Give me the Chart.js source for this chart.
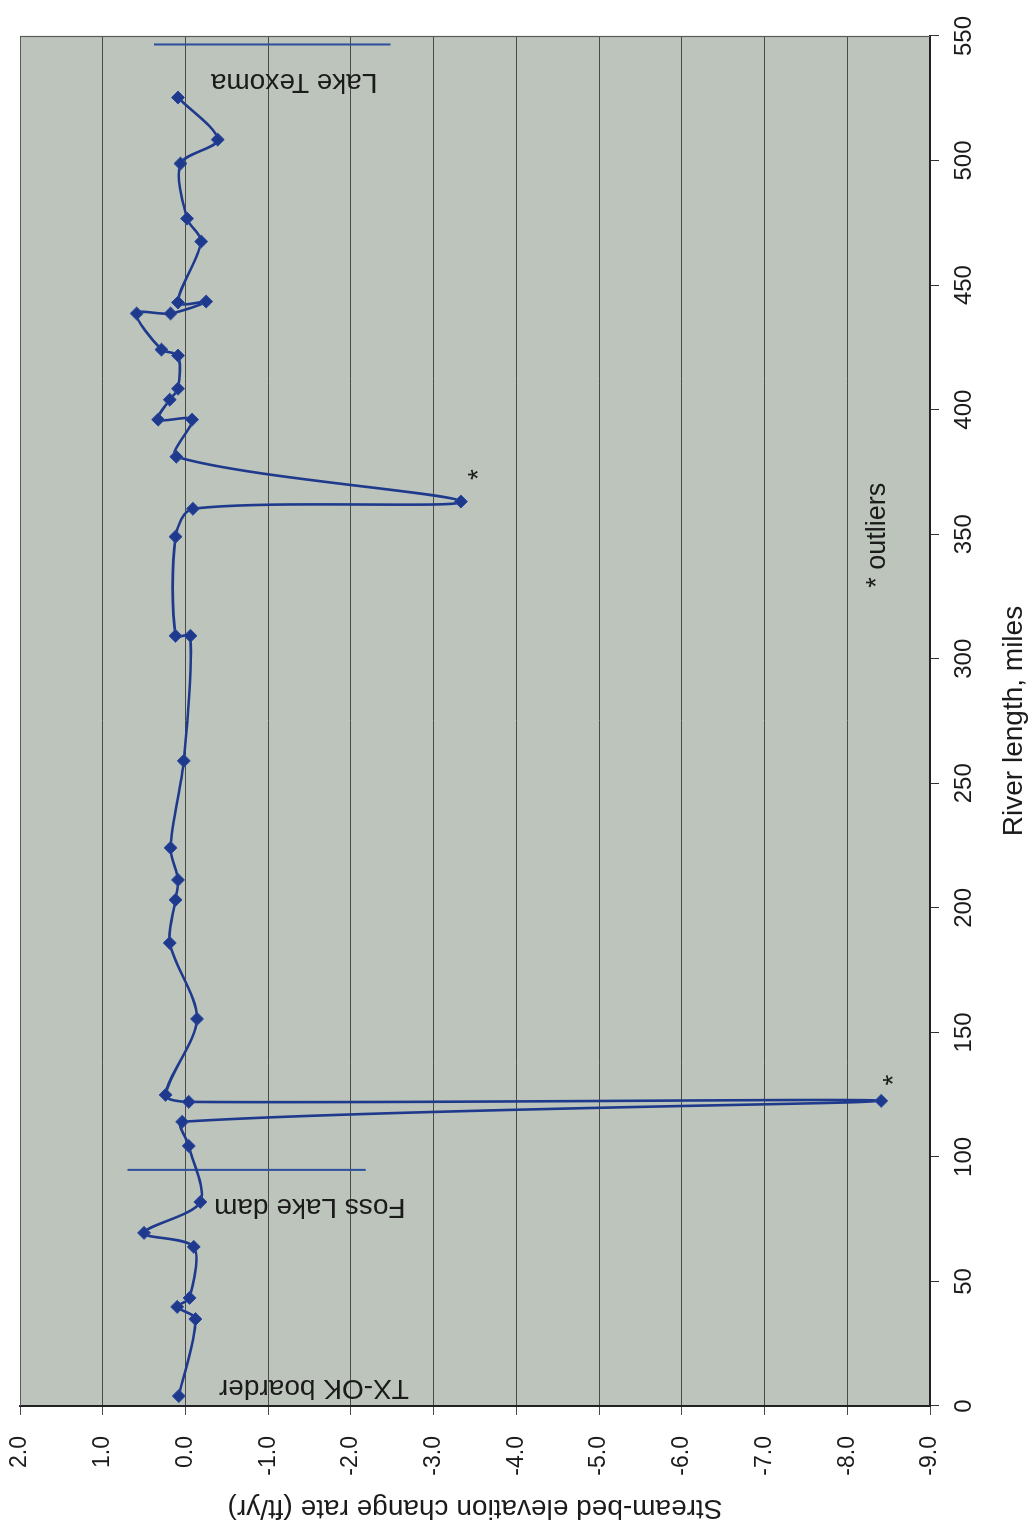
<!DOCTYPE html>
<html>
<head>
<meta charset="utf-8">
<script src="https://cdn.jsdelivr.net/npm/chart.js@4.4.1/dist/chart.umd.min.js"></script>
<style>
  html, body { margin: 0; padding: 0; width: 1032px; height: 1528px; overflow: hidden; background: #ffffff; }
  /* the chart is laid out landscape and turned a quarter turn counter-clockwise onto the page */
  #frame { position: absolute; left: 0; top: 0; width: 1528px; height: 1032px;
           transform-origin: 0 0; transform: translateY(1528px) rotate(-90deg); }
  canvas { display: block; }
</style>
</head>
<body>
<div id="frame"><canvas id="c" width="1528" height="1032"></canvas></div>
<script>
// Survey stations along the river (miles) and stream-bed elevation change rate (ft/yr)
const riverMiles = [4.0, 34.9, 39.8, 43.4, 63.9, 69.5, 81.9, 104.4, 114.1, 122.5,
                    122.1, 124.9, 155.4, 185.9, 203.2, 211.2, 224.1, 259.0, 309.2, 309.2,
                    349.0, 360.2, 363.1, 381.1, 396.0, 396.0, 404.0, 408.4, 421.7, 424.1,
                    438.6, 438.6, 443.4, 443.0, 467.5, 476.7, 498.8, 508.4, 525.3];
const changeRates = [0.08, -0.12, 0.10, -0.05, -0.10, 0.50, -0.18, -0.04, 0.04, -8.41,
                     -0.04, 0.24, -0.14, 0.19, 0.12, 0.09, 0.18, 0.02, -0.06, 0.12,
                     0.12, -0.09, -3.33, 0.11, -0.08, 0.33, 0.19, 0.09, 0.09, 0.29,
                     0.59, 0.18, -0.25, 0.09, -0.19, -0.02, 0.06, -0.39, 0.09];

// Landmark markers (river mile, span of rates)
const fossDamMiles = [94.8, 94.8];
const fossDamRates = [0.70, -2.18];
const texomaMiles = [546.6, 546.6];
const texomaRates = [0.38, -2.48];

// Axis ticks
const mileTicks = [0, 50, 100, 150, 200, 250, 300, 350, 400, 450, 500, 550];
const rateTicks = [2, 1, 0, -1, -2, -3, -4, -5, -6, -7, -8, -9];

// Text notes anchored to chart values
const notes = [
  { kind: 'side', text: 'TX-OK boarder', mile: 7.2, rate: -2.70 },
  { kind: 'side', text: 'Foss Lake dam', mile: 79.9, rate: -2.66 },
  { kind: 'side', text: 'Lake Texoma', mile: 531.7, rate: -2.32 },
  { kind: 'star', text: '*', mile: 373.9, rate: -3.46 },
  { kind: 'star', text: '*', mile: 130.9, rate: -8.47 },
  { kind: 'plain', text: '* outliers', mile: 328.5, rate: -8.45 }
];

const FONT = '"Liberation Sans", Arial, Helvetica, sans-serif';
const LINE_BLUE = '#1f3a8c';
const INK = '#1b1b1b';

const points = riverMiles.map((m, i) => ({ x: m, y: changeRates[i] }));
const fossPts = fossDamMiles.map((m, i) => ({ x: m, y: fossDamRates[i] }));
const texomaPts = texomaMiles.map((m, i) => ({ x: m, y: texomaRates[i] }));

const plotFrame = {
  id: 'plotFrame',
  beforeDraw(chart) {
    const { ctx, chartArea: a } = chart;
    ctx.save();
    ctx.fillStyle = '#bcc4bb';
    ctx.fillRect(a.left, a.top, a.right - a.left, a.bottom - a.top);
    ctx.restore();
  },
  afterDraw(chart) {
    const { ctx, chartArea: a } = chart;
    ctx.save();
    ctx.strokeStyle = '#5a5a5a';
    ctx.lineWidth = 1.2;
    ctx.beginPath();
    ctx.moveTo(a.left, a.top + 0.5);
    ctx.lineTo(a.right - 0.5, a.top + 0.5);
    ctx.lineTo(a.right - 0.5, a.bottom);
    ctx.stroke();
    ctx.restore();
  }
};

const notePlugin = {
  id: 'notes',
  afterDatasetsDraw(chart) {
    const { ctx } = chart;
    const xs = chart.scales.x, ys = chart.scales.y;
    ctx.save();
    ctx.fillStyle = INK;
    for (const n of notes) {
      const px = xs.getPixelForValue(n.mile);
      const py = ys.getPixelForValue(n.rate);
      ctx.save();
      ctx.translate(px, py);
      if (n.kind === 'side') {
        ctx.font = '28px ' + FONT;
        ctx.rotate(-Math.PI / 2);
        ctx.textAlign = 'left';
        ctx.textBaseline = 'middle';
        ctx.fillText(n.text, 0, 0);
      } else if (n.kind === 'star') {
        ctx.font = '28px ' + FONT;
        ctx.textAlign = 'center';
        ctx.textBaseline = 'alphabetic';
        ctx.fillText(n.text, 0, 0.55 * 28);
      } else {
        ctx.font = '27px ' + FONT;
        ctx.textAlign = 'left';
        ctx.textBaseline = 'alphabetic';
        ctx.fillText(n.text, 0, 0);
      }
      ctx.restore();
    }
    ctx.restore();
  }
};

new Chart(document.getElementById('c'), {
  type: 'scatter',
  data: {
    datasets: [
      {
        data: points,
        showLine: true,
        borderColor: LINE_BLUE,
        borderWidth: 2.6,
        tension: 0.3,
        pointStyle: 'rectRot',
        pointRadius: 6.5,
        pointBackgroundColor: LINE_BLUE,
        pointBorderColor: '#2a4aa0',
        pointBorderWidth: 1
      },
      {
        data: fossPts,
        showLine: true,
        borderColor: '#2c4f9e',
        borderWidth: 2,
        pointRadius: 0
      },
      {
        data: texomaPts,
        showLine: true,
        borderColor: '#2c4f9e',
        borderWidth: 2,
        pointRadius: 0
      }
    ]
  },
  options: {
    responsive: false,
    animation: false,
    devicePixelRatio: 1,
    layout: { padding: { top: 20, right: 36, bottom: 0, left: 0 } },
    plugins: { legend: { display: false }, tooltip: { enabled: false } },
    scales: {
      x: {
        type: 'linear',
        position: 'bottom',
        min: 0,
        max: 550,
        afterBuildTicks: s => { s.ticks = mileTicks.map(v => ({ value: v })); },
        afterFit: s => { s.height = 102; },
        grid: { drawOnChartArea: false, drawTicks: true, tickLength: 9, color: '#333333' },
        border: { display: true, color: '#222222', width: 2 },
        ticks: { color: INK, font: { family: FONT, size: 24 }, padding: 11, maxRotation: 0,
                 callback: v => String(v) },
        title: { display: true, text: 'River length, miles', color: INK,
                 font: { family: FONT, size: 28 }, padding: { top: 0, bottom: 1 } }
      },
      y: {
        type: 'linear',
        position: 'left',
        min: -9,
        max: 2,
        afterBuildTicks: s => { s.ticks = rateTicks.map(v => ({ value: v })); },
        afterFit: s => { s.width = 122; s.paddingTop = 0; s.paddingBottom = 0; },
        grid: { drawOnChartArea: true, drawTicks: true, tickLength: 9, color: '#4a4a4a', lineWidth: 1 },
        border: { display: true, color: '#222222', width: 2 },
        ticks: { color: INK, font: { family: FONT, size: 23 }, padding: 21,
                 callback: v => Number(v).toFixed(1) },
        title: { display: true, text: 'Stream-bed elevation change rate (ft/yr)', color: INK,
                 font: { family: FONT, size: 28 }, padding: { top: 3, bottom: 0 } }
      }
    }
  },
  plugins: [plotFrame, notePlugin]
});
</script>
</body>
</html>
